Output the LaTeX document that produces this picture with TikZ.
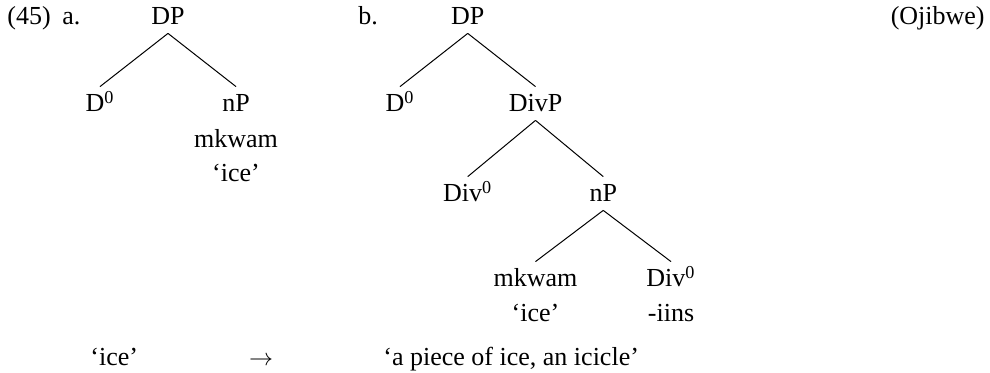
\documentclass[tikz,border=0pt]{standalone}
\usepackage{fontspec}
\setmainfont{Liberation Serif}
\usetikzlibrary{matrix}
\tikzset{
     txt/.style = { font=\fontsize{13}{15.6}\selectfont, inner sep=0pt },
     cat/.style = { txt, anchor=base, text height=9pt, text depth=0.5pt, inner sep=3.5pt },
  branch/.style = { line width=0.5pt },
}
\newcommand*{\zero}{\textsuperscript{0}}

\begin{document}
\begin{tikzpicture}[x=0.5pt, y=-0.5pt]
  \useasboundingbox (0,0) rectangle (990,373);

  \node [txt, anchor=base west] (ex)   at (7,25)   {(45)};
  \node [txt, anchor=base west] (ia)   at (62,25)  {a.};
  \node [txt, anchor=base west] (ib)   at (358,25) {b.};
  \node [txt, anchor=base east] (lang) at (985,25) {(Ojibwe)};

  % tree a
  \matrix (ma) at (168,25)
    [
      matrix of nodes,
      nodes in empty cells,
      matrix anchor = ma-1-2.base,
      nodes         = { cat },
      column sep    = {34pt,between origins},
      row sep       = {43.5pt,between origins},
    ]
    {
                & DP &         \\
      D\zero    &    & nP      \\[-25.5pt]
                &    & mkwam   \\[-26.5pt]
                &    & `ice'   \\
    };

  % tree b
  \matrix (mb) at (467.75,25)
    [
      matrix of nodes,
      nodes in empty cells,
      matrix anchor = mb-1-2.base,
      nodes         = { cat },
      column sep    = {33.875pt,between origins},
      row sep       = {43.5pt,between origins},
    ]
    {
             & DP       &       &    &          \\
      D\zero &          & DivP  &    &          \\[1.5pt]
             & Div\zero &       & nP &          \\[-1pt]
             &          & mkwam &    & Div\zero \\[-26pt]
             &          & `ice' &    & -iins    \\
    };

  \foreach \p/\c in {1-2/2-1, 1-2/2-3} {
    \draw [branch] (ma-\p.south) -- (ma-\c.north);
  }
  \foreach \p/\c in {1-2/2-1, 1-2/2-3, 2-3/3-2, 2-3/3-4, 3-4/4-3, 3-4/4-5} {
    \draw [branch] (mb-\p.south) -- (mb-\c.north);
  }

  \node [txt, anchor=base west] (src) at (90,365)  {`ice'};
  \node [txt, anchor=base]      (arr) at (261,365) {$\rightarrow$};
  \node [txt, anchor=base west] (tgt) at (383,365) {`a piece of ice, an icicle'};
\end{tikzpicture}
\end{document}
